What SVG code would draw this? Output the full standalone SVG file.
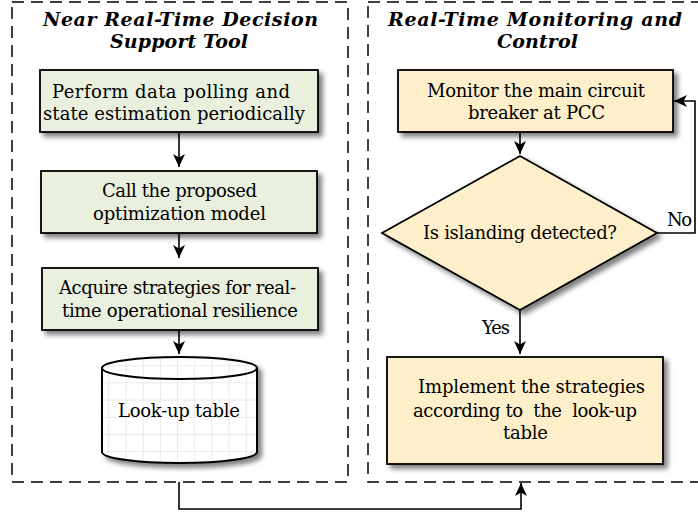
<svg xmlns="http://www.w3.org/2000/svg" width="698" height="516" viewBox="0 0 698 516">
  <style>
    .panel { fill: none; stroke: #000; stroke-width: 1.5; stroke-dasharray: 12 7; }
    .title { font-family: "DejaVu Serif", "Liberation Serif", serif; font-weight: bold; font-style: italic; font-size: 19px; text-anchor: middle; fill: #000; }
    .txt { font-family: "DejaVu Serif", "Liberation Serif", serif; font-size: 18px; text-anchor: middle; fill: #000; }
    .lbl { font-family: "DejaVu Serif", "Liberation Serif", serif; font-size: 18px; fill: #000; }
    .green { fill: #eaf0de; stroke: #000; stroke-width: 1.8; }
    .yellow { fill: #fdefc9; stroke: #000; stroke-width: 1.8; }
    .conn { fill: none; stroke: #000; stroke-width: 1.6; }
  </style>
  <defs>
    <filter id="shadow" x="-10%" y="-10%" width="130%" height="140%">
      <feDropShadow dx="4" dy="4" stdDeviation="2.5" flood-color="#000" flood-opacity="0.5"/>
    </filter>
    <marker id="arrow" markerUnits="userSpaceOnUse" markerWidth="14" markerHeight="12" viewBox="0 0 14 12" refX="13" refY="6" orient="auto">
      <path d="M0,0 L13,6 L0,12 L3.5,6 Z" fill="#000"/>
    </marker>
    <pattern id="grid" patternUnits="userSpaceOnUse" x="5" y="4" width="17.2" height="17.2">
      <rect width="17.2" height="17.2" fill="#fff"/>
      <path d="M0,0 V17.2 M0,0 H17.2" stroke="#e4e4e4" stroke-width="1.5" fill="none"/>
    </pattern>
  </defs>

  <!-- dashed panels -->
  <g id="panel-left">
    <rect class="panel" x="12" y="2" width="336" height="480"/>
    <text class="title" x="180.5" y="26" textLength="275">Near Real-Time Decision</text>
    <text class="title" x="179" y="48" textLength="138">Support Tool</text>
  </g>
  <g id="panel-right">
    <rect class="panel" x="368" y="2" width="345" height="480"/>
    <text class="title" x="535" y="26" textLength="294">Real-Time Monitoring and</text>
    <text class="title" x="537.5" y="48" textLength="81">Control</text>
  </g>

  <!-- left column -->
  <g id="poll">
    <rect class="green" x="40" y="70" width="278" height="62" filter="url(#shadow)"/>
    <text class="txt" x="171" y="98" textLength="238">Perform data polling and</text>
    <text class="txt" x="174" y="120" textLength="262">state estimation periodically</text>
  </g>
  <g id="optimize">
    <rect class="green" x="41" y="171" width="276" height="62" filter="url(#shadow)"/>
    <text class="txt" x="179.5" y="197" textLength="155">Call the proposed</text>
    <text class="txt" x="179.5" y="220" textLength="173">optimization model</text>
  </g>
  <g id="acquire">
    <rect class="green" x="42" y="268" width="276" height="62" filter="url(#shadow)"/>
    <text class="txt" x="177.5" y="294" textLength="237">Acquire strategies for real-</text>
    <text class="txt" x="180" y="317" textLength="236">time operational resilience</text>
  </g>
  <g id="lookup">
    <g filter="url(#shadow)">
      <path d="M102,368 V452 A77.5,11 0 0 0 257,452 V368 Z" fill="url(#grid)" stroke="#000" stroke-width="2"/>
      <ellipse cx="179.5" cy="368" rx="77.5" ry="11" fill="url(#grid)" stroke="#000" stroke-width="2"/>
    </g>
    <text class="txt" x="179" y="417" textLength="122">Look-up table</text>
  </g>

  <!-- right column -->
  <g id="monitor">
    <rect class="yellow" x="398" y="70" width="275" height="62" filter="url(#shadow)"/>
    <text class="txt" x="536" y="97" textLength="218">Monitor the main circuit</text>
    <text class="txt" x="536.5" y="119" textLength="137">breaker at PCC</text>
  </g>
  <g id="islanding">
    <polygon class="yellow" points="520,156 657,233 520,310 382,233" filter="url(#shadow)"/>
    <text class="txt" x="520" y="239" textLength="194">Is islanding detected?</text>
  </g>
  <g id="implement">
    <rect class="yellow" x="387" y="357" width="276" height="107" filter="url(#shadow)"/>
    <text class="txt" x="531.5" y="393" textLength="227">Implement the strategies</text>
    <text class="txt" x="525" y="417" textLength="224" xml:space="preserve">according to  the  look-up</text>
    <text class="txt" x="525.5" y="439" textLength="45">table</text>
  </g>

  <!-- connectors -->
  <g id="connectors">
    <path class="conn" d="M179,132 V167" marker-end="url(#arrow)"/>
    <path class="conn" d="M179,233 V258" marker-end="url(#arrow)"/>
    <path class="conn" d="M179,330 V354" marker-end="url(#arrow)"/>
    <path class="conn" d="M520,132 V154" marker-end="url(#arrow)"/>
    <path class="conn" d="M657,233 H695 V101 H674" marker-end="url(#arrow)"/>
    <path class="conn" d="M520,310 V354" marker-end="url(#arrow)"/>
    <path class="conn" d="M179,482 V509 H521 V483" marker-end="url(#arrow)"/>
    <text class="lbl" x="667" y="226" textLength="25">No</text>
    <text class="lbl" x="482" y="334" textLength="28">Yes</text>
  </g>
</svg>
